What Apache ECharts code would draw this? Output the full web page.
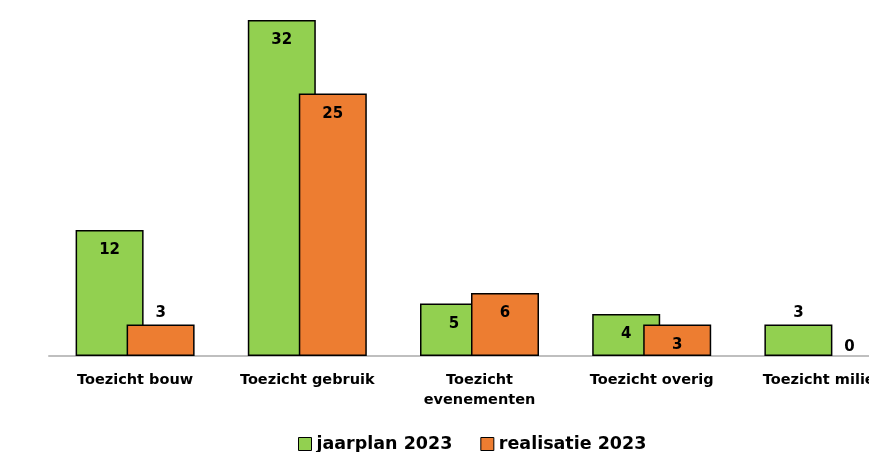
<!DOCTYPE html>
<html><head><meta charset="utf-8">
<script src="https://cdn.jsdelivr.net/npm/echarts@6/dist/echarts.min.js"></script>
<style>html,body{margin:0;padding:0;background:#fff}#c{width:869px;height:452px}</style>
</head><body><div id="c"></div>
<script>
var categories = ['Toezicht bouw', 'Toezicht gebruik', 'Toezicht\nevenementen', 'Toezicht overig', 'Toezicht milieu'];
var jaarplan = [12, 32, 5, 4, 3];
var realisatie = [3, 25, 6, 3, 0];
var jaarplanLabelPos = ['insideTop', 'insideTop', 'insideTop', 'insideTop', 'top'];
var realisatieLabelPos = ['top', 'insideTop', 'insideTop', 'insideTop', 'top'];

function mk(vals, pos) {
  return vals.map(function (v, i) {
    var dist = pos[i] === 'top' ? (v === 0 ? 1 : 4) : 13;
    var d = { value: v, label: { position: pos[i], distance: dist } };
    if (v === 0) d.itemStyle = { borderWidth: 0 };
    return d;
  });
}
var labelStyle = { show: true, color: '#000', fontFamily: 'DejaVu Sans', fontWeight: 'bold', fontSize: 15 };
var chart = echarts.init(document.getElementById('c'));
chart.setOption({
  animation: false,
  grid: { left: 49, top: 20, width: 861, height: 336, outerBoundsMode: 'none', containLabel: false },
  xAxis: {
    type: 'category', data: categories,
    axisLine: { lineStyle: { color: '#bfbfbf', width: 2 } },
    axisTick: { show: false },
    axisLabel: { color: '#000', fontFamily: 'DejaVu Sans', fontWeight: 'bold', fontSize: 14.5, margin: 14, lineHeight: 20, interval: 0, hideOverlap: false }
  },
  yAxis: { type: 'value', min: 0, max: 32, show: false, splitLine: { show: false } },
  legend: {
    bottom: -6, left: 293, icon: 'rect', itemWidth: 13, itemHeight: 13, itemGap: 28,
    textStyle: { color: '#000', fontFamily: 'DejaVu Sans', fontWeight: 'bold', fontSize: 17.5 },
    data: [
      { name: 'jaarplan 2023', itemStyle: { borderColor: '#000', borderWidth: 1 } },
      { name: 'realisatie 2023', itemStyle: { borderColor: '#000', borderWidth: 1 } }
    ]
  },
  series: [
    { name: 'jaarplan 2023', type: 'bar', barWidth: 68, barGap: '-25%', data: mk(jaarplan, jaarplanLabelPos),
      itemStyle: { color: '#92D050', borderColor: '#000', borderWidth: 1.5 }, label: labelStyle },
    { name: 'realisatie 2023', type: 'bar', barWidth: 68, barGap: '-25%', data: mk(realisatie, realisatieLabelPos),
      itemStyle: { color: '#ED7D31', borderColor: '#000', borderWidth: 1.5 }, label: labelStyle }
  ]
});
</script></body></html>
